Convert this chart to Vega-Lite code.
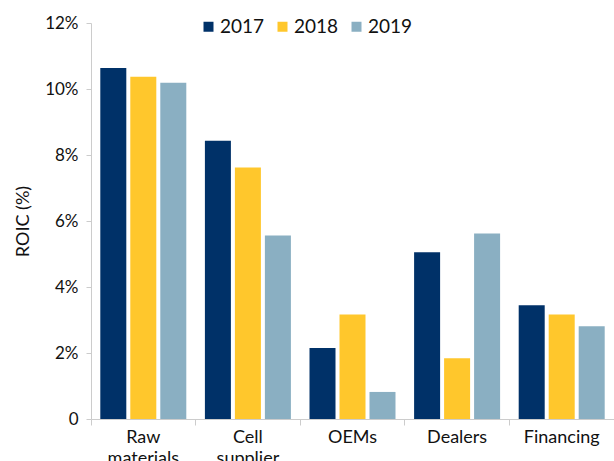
{
  "$schema": "https://vega.github.io/schema/vega-lite/v6.json",
  "autosize": {"type": "none"},
  "width": 523,
  "height": 396,
  "padding": {"left": 91, "top": 23, "right": 0, "bottom": 42},
  "background": "white",
  "config": {
    "view": {"stroke": null},
    "font": "Lato",
    "axis": {"labelFont": "Lato", "titleFont": "Lato", "labelColor": "#111111", "titleColor": "#111111"},
    "legend": {"labelFont": "Lato", "labelColor": "#111111"}
  },
  "data": {
    "values": [
      {"sector": "Raw materials", "year": "2017", "roic": 10.64},
      {"sector": "Raw materials", "year": "2018", "roic": 10.37},
      {"sector": "Raw materials", "year": "2019", "roic": 10.19},
      {"sector": "Cell supplier", "year": "2017", "roic": 8.43},
      {"sector": "Cell supplier", "year": "2018", "roic": 7.62},
      {"sector": "Cell supplier", "year": "2019", "roic": 5.56},
      {"sector": "OEMs", "year": "2017", "roic": 2.15},
      {"sector": "OEMs", "year": "2018", "roic": 3.17},
      {"sector": "OEMs", "year": "2019", "roic": 0.82},
      {"sector": "Dealers", "year": "2017", "roic": 5.05},
      {"sector": "Dealers", "year": "2018", "roic": 1.84},
      {"sector": "Dealers", "year": "2019", "roic": 5.62},
      {"sector": "Financing", "year": "2017", "roic": 3.45},
      {"sector": "Financing", "year": "2018", "roic": 3.17},
      {"sector": "Financing", "year": "2019", "roic": 2.81}
    ]
  },
  "mark": {"type": "bar"},
  "encoding": {
    "x": {
      "field": "sector", "type": "nominal", "sort": null,
      "scale": {"paddingInner": 0, "paddingOuter": 0},
      "axis": {
        "title": null, "labelAngle": 0, "labelFontSize": 18, "labelPadding": 3,
        "labelExpr": "split(datum.label, ' ')", "labelLineHeight": 21,
        "bandPosition": 0, "tickSize": 6, "tickColor": "#cccccc",
        "domainColor": "#cccccc", "grid": false, "labelBaseline": "top"
      }
    },
    "xOffset": {
      "field": "year", "type": "nominal",
      "scale": {"paddingInner": 0.133, "paddingOuter": 0.31}
    },
    "y": {
      "field": "roic", "type": "quantitative",
      "scale": {"domain": [0, 12]},
      "axis": {
        "title": "ROIC (%)", "titleFontSize": 18, "titleFontWeight": "normal", "titlePadding": 12,
        "values": [0, 2, 4, 6, 8, 10, 12],
        "labelExpr": "datum.value == 0 ? '0' : datum.value + '%'",
        "labelFontSize": 17, "labelPadding": 8, "tickSize": 5, "tickColor": "#cccccc",
        "domainColor": "#cccccc", "grid": false
      }
    },
    "color": {
      "field": "year", "type": "nominal",
      "scale": {"domain": ["2017", "2018", "2019"], "range": ["#003168", "#FFC72C", "#8AAFC2"]},
      "legend": {
        "title": null, "orient": "none", "direction": "horizontal",
        "legendX": 108, "legendY": -6, "symbolType": "square", "symbolSize": 100,
        "labelFontSize": 19, "symbolStrokeWidth": 0, "columnPadding": 8, "labelOffset": 2
      }
    }
  }
}
